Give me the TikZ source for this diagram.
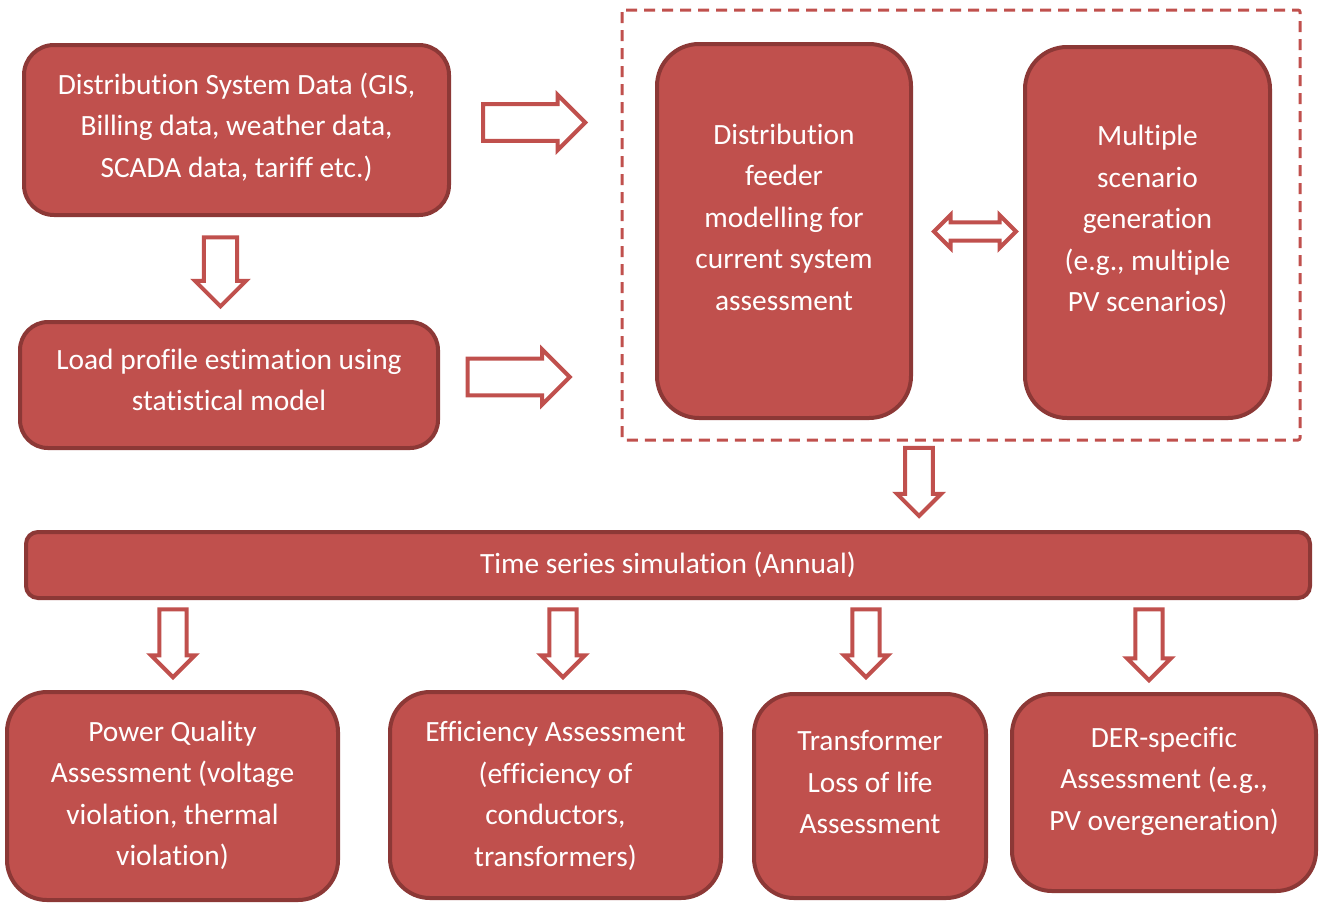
\documentclass[tikz,border=0pt]{standalone}
\usepackage{fontspec}
\setmainfont[Ligatures=NoCommon]{Carlito}
\usetikzlibrary{shapes.arrows}
\definecolor{boxred}{HTML}{C0504D}
\definecolor{boxedge}{HTML}{8C3836}
\tikzstyle{block}=[rectangle,draw=boxedge,fill=boxred,line width=4pt,text=white,align=center,inner sep=0pt,font=\fontsize{29.4}{41.5}\selectfont]
\tikzstyle{rarrow}=[single arrow,draw=boxred,fill=white,line width=4pt,inner xsep=0pt,single arrow head indent=0pt]
\tikzstyle{darrow}=[rarrow,rotate=-90]
\tikzstyle{group}=[draw=boxred,line width=3pt,dash pattern=on 11pt off 7pt,rounded corners=2pt]

\begin{document}
\begin{tikzpicture}[x=1pt,y=-1pt]
\useasboundingbox (0,0) rectangle (1322,903);
% top left
\node (sys) [block,rounded corners=30pt,minimum width=425pt,minimum height=170pt] at (236.5,130)
  {Distribution System Data (GIS,\\Billing data, weather data,\\SCADA data, tariff etc.)\\[-31.5pt]};
\node (load) [block,rounded corners=28pt,minimum width=418pt,minimum height=126pt] at (229,385)
  {Load profile estimation using\\statistical model\\[-31.5pt]};
% dashed group
\draw[group] (622,10) rectangle (1300,440);
\node (feed) [block,rounded corners=42pt,minimum width=254pt,minimum height=374pt] at (784,231)
  {Distribution\\feeder\\modelling for\\current system\\assessment\\[-13.5pt]};
\node (scen) [block,rounded corners=42pt,minimum width=245pt,minimum height=371pt] at (1147.5,232.5)
  {Multiple\\scenario\\generation\\(e.g., multiple\\PV scenarios)\\[-13.5pt]};
% simulation
\node (ts) [block,rounded corners=12pt,minimum width=1284pt,minimum height=66pt] at (668,565)
  {Time series simulation (Annual)};
% outputs
\node (pq) [block,rounded corners=40pt,minimum width=331pt,minimum height=208pt] at (172.5,796)
  {Power Quality\\Assessment (voltage\\violation, thermal\\violation)\\[-36pt]};
\node (eff) [block,rounded corners=40pt,minimum width=331pt,minimum height=206pt] at (555.5,795)
  {Efficiency Assessment\\(efficiency of\\conductors,\\transformers)\\[-39pt]};
\node (trf) [block,rounded corners=40pt,minimum width=232pt,minimum height=204pt] at (870,796)
  {Transformer\\Loss of life\\Assessment\\[-13.5pt]};
\node (der) [block,rounded corners=40pt,minimum width=304pt,minimum height=197pt] at (1164,792.5)
  {DER-specific\\Assessment (e.g.,\\PV overgeneration)\\[-13.5pt]};
% block arrows
\node (a0) [rarrow,minimum height=102pt,minimum width=55pt,inner ysep=12.5pt] at (525,122.5) {};
\node (a1) [rarrow,minimum height=102pt,minimum width=55pt,inner ysep=12.5pt] at (509.5,377) {};
\node (a2) [darrow,minimum height=69pt,minimum width=51pt,inner ysep=11.5pt] at (220.5,263.5) {};
\node (a3) [darrow,minimum height=68pt,minimum width=44pt,inner ysep=10pt] at (919,475) {};
\node (a4) [double arrow,draw=boxred,fill=white,line width=4pt,inner xsep=0pt,inner ysep=7pt,
  double arrow head indent=0pt,minimum height=82pt,minimum width=33pt] at (975,231.5) {};
\node (a5) [darrow,minimum height=68pt,minimum width=44pt,inner ysep=9.5pt] at (173,636.5) {};
\node (a6) [darrow,minimum height=68pt,minimum width=44pt,inner ysep=9.5pt] at (563,636.5) {};
\node (a7) [darrow,minimum height=68pt,minimum width=44pt,inner ysep=9.5pt] at (866,636.5) {};
\node (a8) [darrow,minimum height=71pt,minimum width=44pt,inner ysep=9.5pt] at (1149,638) {};
\end{tikzpicture}
\end{document}
